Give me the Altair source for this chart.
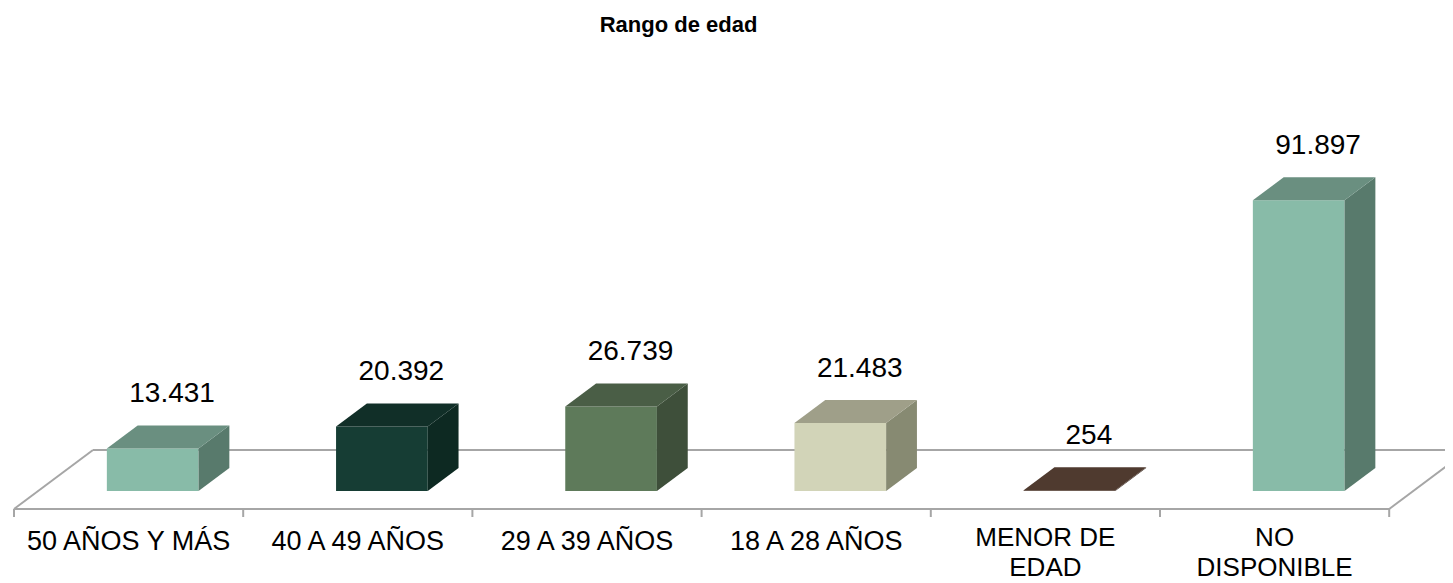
import altair as alt
import pandas as pd

# ---- data ----
categories = ["50 AÑOS Y MÁS", "40 A 49 AÑOS", "29 A 39 AÑOS", "18 A 28 AÑOS", "MENOR DE\nEDAD", "NO\nDISPONIBLE"]
values = [13431, 20392, 26739, 21483, 254, 91897]
front_colors = ["#88BBA8", "#163D34", "#5E7A5A", "#D2D4B8", "#4F3A2F", "#88BBA8"]
top_colors = ["#6A8F80", "#112F28", "#4A5E46", "#9F9F89", "#4F3A2F", "#6A8F80"]
side_colors = ["#587A6C", "#0D2922", "#3E4F3A", "#878A72", "#3F2E25", "#587A6C"]

# ---- 3D projection settings (style) ----
GAP = 0.3            # bar occupies [i+GAP, i+1-GAP] of its band
DXU = 79 / 229.2     # floor depth, horizontal shift in band units
DYV = 59 * 316       # floor depth, vertical shift in value units
ZF, ZB = 0.305, 0.695  # bar front / back depth fraction
TICK = 8 * 316
N = len(categories)

def fmt(v):
    return f"{v:,}".replace(",", ".")

front_rows, side_rows, top_rows, lab_rows = [], [], [], []
for i, (c, v) in enumerate(zip(categories, values)):
    xl, xr = i + GAP, i + 1 - GAP
    front_rows.append(dict(x=xl + ZF * DXU, x2=xr + ZF * DXU, y=ZF * DYV, y2=v + ZF * DYV, col=front_colors[i]))
    for z in (ZF, ZB):
        side_rows.append(dict(id=i, x=xr + z * DXU, y=z * DYV, y2=v + z * DYV, col=side_colors[i]))
        top_rows.append(dict(id=i, y=v + z * DYV, x=xl + z * DXU, x2=xr + z * DXU, col=top_colors[i]))
    lab_rows.append(dict(x=i + 0.5 + 0.5 * DXU, y=v + ZB * DYV, t=fmt(v), cat=c, xc=i + 0.5,
                         multi="\n" in c))

front_df = pd.DataFrame(front_rows)
side_df = pd.DataFrame(side_rows)
top_df = pd.DataFrame(top_rows)
lab_df = pd.DataFrame(lab_rows)

edges = []
for e, pts in {
    "front": [(0, 0), (N, 0)],
    "back": [(DXU, DYV), (N + DXU, DYV)],
    "left": [(0, 0), (DXU, DYV)],
    "right": [(N, 0), (N + DXU, DYV)],
}.items():
    for (px, py) in pts:
        edges.append(dict(edge=e, x=px, y=py))
edge_df = pd.DataFrame(edges)
tick_df = pd.DataFrame(dict(x=list(range(N + 1)), y=[0] * (N + 1), y2=[-TICK] * (N + 1)))

# ---- scales ----
W, H, PT = 1437, 530, 45
XD = [-6 / 229.2, (W - 6) / 229.2]
YD = [(456 - H) * 316, 456 * 316]
xs = alt.Scale(domain=XD, nice=False, zero=False)
ys = alt.Scale(domain=YD, nice=False, zero=False)
GRAY = "#A6A6A6"
FONT = "Liberation Sans"

floor = alt.Chart(edge_df).mark_line(color=GRAY, strokeWidth=2).encode(
    x=alt.X("x:Q", scale=xs, axis=None),
    y=alt.Y("y:Q", scale=ys, axis=None),
    detail="edge:N",
)
ticks = alt.Chart(tick_df).mark_rule(color=GRAY, strokeWidth=2).encode(
    x=alt.X("x:Q", scale=xs, axis=None),
    y=alt.Y("y:Q", scale=ys, axis=None),
    y2="y2:Q",
)
front = alt.Chart(front_df).mark_rect().encode(
    x=alt.X("x:Q", scale=xs, axis=None), x2="x2:Q",
    y=alt.Y("y:Q", scale=ys, axis=None), y2="y2:Q",
    color=alt.Color("col:N", scale=None),
)
side = alt.Chart(side_df).mark_area(orient="vertical").encode(
    x=alt.X("x:Q", scale=xs, axis=None),
    y=alt.Y("y:Q", scale=ys, axis=None), y2="y2:Q",
    color=alt.Color("col:N", scale=None),
    detail="id:N",
)
top = alt.Chart(top_df).mark_area(orient="horizontal").encode(
    y=alt.Y("y:Q", scale=ys, axis=None),
    x=alt.X("x:Q", scale=xs, axis=None), x2="x2:Q",
    color=alt.Color("col:N", scale=None),
    detail="id:N",
)
vlabels = alt.Chart(lab_df).mark_text(
    font=FONT, fontSize=28, color="#000000", baseline="alphabetic", align="center", dy=-23, dx=4
).encode(
    x=alt.X("x:Q", scale=xs, axis=None),
    y=alt.Y("y:Q", scale=ys, axis=None),
    text="t:N",
)
xlabels_single = alt.Chart(lab_df).transform_filter("!datum.multi").mark_text(
    font=FONT, fontSize=27, color="#000000", baseline="alphabetic", align="center", dy=41,
).encode(
    x=alt.X("xc:Q", scale=xs, axis=None),
    y=alt.datum(0, scale=ys),
    text="cat:N",
)
xlabels_multi = alt.Chart(lab_df).transform_filter("datum.multi").mark_text(
    font=FONT, fontSize=26, color="#000000", baseline="alphabetic", align="center",
    dy=37, lineBreak="\n", lineHeight=30,
).encode(
    x=alt.X("xc:Q", scale=xs, axis=None),
    y=alt.datum(0, scale=ys),
    text="cat:N",
)

chart = alt.layer(floor, ticks, front, side, top, vlabels, xlabels_single, xlabels_multi).properties(
    width=W,
    height=H,
    padding={"left": 0, "top": PT, "right": 0, "bottom": 0},
    autosize="none",
    title=alt.Title(
        "Rango de edad", font=FONT, fontSize=22, fontWeight="bold", color="#000000",
        anchor="middle", dx=-48, baseline="alphabetic", offset=-1, frame="group",
    ),
).configure_view(stroke=None)

chart.save("out.html", embed_options={"renderer": "svg", "actions": False})
